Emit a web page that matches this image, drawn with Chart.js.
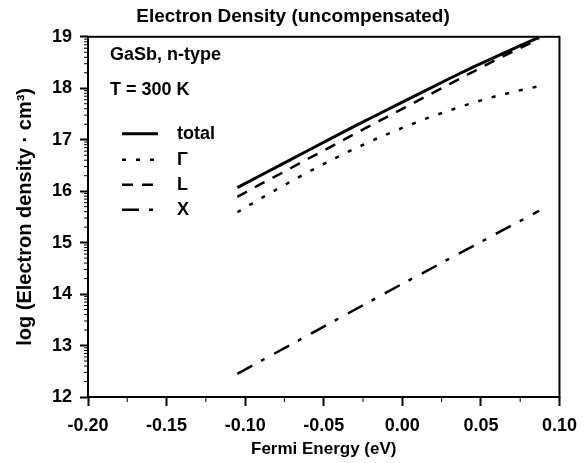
<!DOCTYPE html>
<html>
<head>
<meta charset="utf-8">
<script src="https://cdn.jsdelivr.net/npm/chart.js"></script>
<style>
  html, body { margin: 0; padding: 0; background: #fff; }
</style>
</head>
<body>
<canvas id="myChart" width="586" height="463"></canvas>
<script>
// Fermi energy (eV)
var fermi = [-0.105, -0.09, -0.075, -0.06, -0.045, -0.03, -0.015, 0.0, 0.015, 0.03, 0.045, 0.06, 0.075, 0.087];
// log10 electron density
var total = [16.07, 16.31, 16.55, 16.79, 17.03, 17.27, 17.50, 17.73, 17.96, 18.19, 18.41, 18.62, 18.83, 18.99];
var gammaVal = [15.59, 15.86, 16.12, 16.37, 16.61, 16.83, 17.04, 17.23, 17.41, 17.57, 17.72, 17.85, 17.96, 18.04];
var lVal = [15.89, 16.14, 16.38, 16.63, 16.87, 17.12, 17.36, 17.60, 17.84, 18.08, 18.32, 18.56, 18.78, 18.96];
var xVal = [12.45, 12.70, 12.95, 13.20, 13.45, 13.70, 13.95, 14.20, 14.44, 14.69, 14.93, 15.18, 15.42, 15.62];

var seriesNames = ["total", "\u0393", "L", "X"];
var notes = ["GaSb, n-type", "T = 300 K"];

var FONT = "'Liberation Sans', Arial, Helvetica, sans-serif";

function pts(vals) {
    var out = [];
    for (var i = 0; i < fermi.length; i++) {
        out.push({x: fermi[i], y: vals[i]});
    }
    return out;
}

// frame, minor ticks and the in-plot legend
var extras = {
    id: 'extras',
    afterDraw: function(chart) {
        var ctx = chart.ctx;
        var a = chart.chartArea;
        var xs = chart.scales.x, ys = chart.scales.y;
        ctx.save();
        ctx.strokeStyle = '#000';
        ctx.lineWidth = 2;
        ctx.strokeRect(a.left, a.top, a.right - a.left, a.bottom - a.top);

        // minor ticks (log spacing on y, halves on x)
        ctx.lineWidth = 1;
        ctx.beginPath();
        for (var n = 12; n < 19; n++) {
            for (var k = 2; k < 10; k++) {
                var py = ys.getPixelForValue(n + Math.log10(k));
                ctx.moveTo(a.left - 4, py);
                ctx.lineTo(a.left, py);
            }
        }
        for (var j = 0; j < 6; j++) {
            var px = xs.getPixelForValue(-0.175 + j * 0.05);
            ctx.moveTo(px, a.bottom);
            ctx.lineTo(px, a.bottom + 5);
        }
        ctx.stroke();

        ctx.fillStyle = '#000';
        ctx.font = 'bold 18px ' + FONT;
        ctx.textBaseline = 'middle';
        ctx.textAlign = 'left';
        ctx.fillText(notes[0], a.left + 22, a.top + 18);
        ctx.fillText(notes[1], a.left + 22, a.top + 53);

        var rows = [97, 123, 148, 173];
        chart.data.datasets.forEach(function(ds, i) {
            var y = a.top + rows[i];
            ctx.beginPath();
            ctx.lineWidth = ds.borderWidth;
            ctx.setLineDash(ds.borderDash || []);
            ctx.moveTo(a.left + 34, y);
            ctx.lineTo(a.left + 70, y);
            ctx.stroke();
            ctx.setLineDash([]);
            ctx.fillText(ds.label, a.left + 89, y);
        });
        ctx.restore();
    }
};

var ctx = document.getElementById("myChart").getContext('2d');
var myChart = new Chart(ctx, {
    type: 'line',
    data: {
        datasets: [{
            label: seriesNames[0],
            data: pts(total),
            borderColor: '#000',
            borderWidth: 3,
            pointRadius: 0,
            fill: false
        }, {
            label: seriesNames[1],
            data: pts(gammaVal),
            borderColor: '#000',
            borderWidth: 2.5,
            borderDash: [4, 10],
            pointRadius: 0,
            fill: false
        }, {
            label: seriesNames[2],
            data: pts(lVal),
            borderColor: '#000',
            borderWidth: 2.5,
            borderDash: [11, 9],
            pointRadius: 0,
            fill: false
        }, {
            label: seriesNames[3],
            data: pts(xVal),
            borderColor: '#000',
            borderWidth: 2.5,
            borderDash: [17, 10, 4, 11],
            pointRadius: 0,
            fill: false
        }]
    },
    options: {
        responsive: false,
        animation: false,
        layout: { padding: 0 },
        plugins: {
            legend: { display: false },
            tooltip: { enabled: false },
            title: {
                display: true,
                text: 'Electron Density (uncompensated)',
                color: '#000',
                font: { family: FONT, size: 19, weight: 'bold' },
                padding: { top: 5, bottom: 9 }
            }
        },
        scales: {
            x: {
                type: 'linear',
                min: -0.2,
                max: 0.1,
                afterFit: function(scale) { scale.height = 66; },
                border: { display: false },
                grid: { drawOnChartArea: false, drawTicks: true, tickLength: 9, tickColor: '#000', tickWidth: 2 },
                ticks: {
                    stepSize: 0.05,
                    color: '#000',
                    padding: 9,
                    maxRotation: 0,
                    font: { family: FONT, size: 18, weight: 'bold' },
                    callback: function(v) { return Number(v).toFixed(2); }
                },
                title: {
                    display: true,
                    text: 'Fermi Energy (eV)',
                    color: '#000',
                    font: { family: FONT, size: 17, weight: 'bold' },
                    padding: { top: 0, bottom: 3 }
                }
            },
            y: {
                min: 12,
                max: 19,
                afterFit: function(scale) { scale.width = 88; },
                border: { display: false },
                grid: { drawOnChartArea: false, drawTicks: true, tickLength: 8, tickColor: '#000', tickWidth: 2 },
                ticks: {
                    stepSize: 1,
                    color: '#000',
                    padding: 8,
                    font: { family: FONT, size: 18, weight: 'bold' }
                },
                title: {
                    display: true,
                    text: 'log (Electron density \u00b7 cm\u00b3)',
                    color: '#000',
                    font: { family: FONT, size: 20, weight: 'bold' },
                    padding: { top: 13, bottom: 0 }
                }
            },
            // empty right-hand strip so the plot ends where the original does
            yRight: {
                position: 'right',
                min: 12,
                max: 19,
                afterFit: function(scale) { scale.width = 19; },
                border: { display: false },
                grid: { display: false },
                ticks: { display: false }
            }
        }
    },
    plugins: [extras]
});
</script>
</body>
</html>
